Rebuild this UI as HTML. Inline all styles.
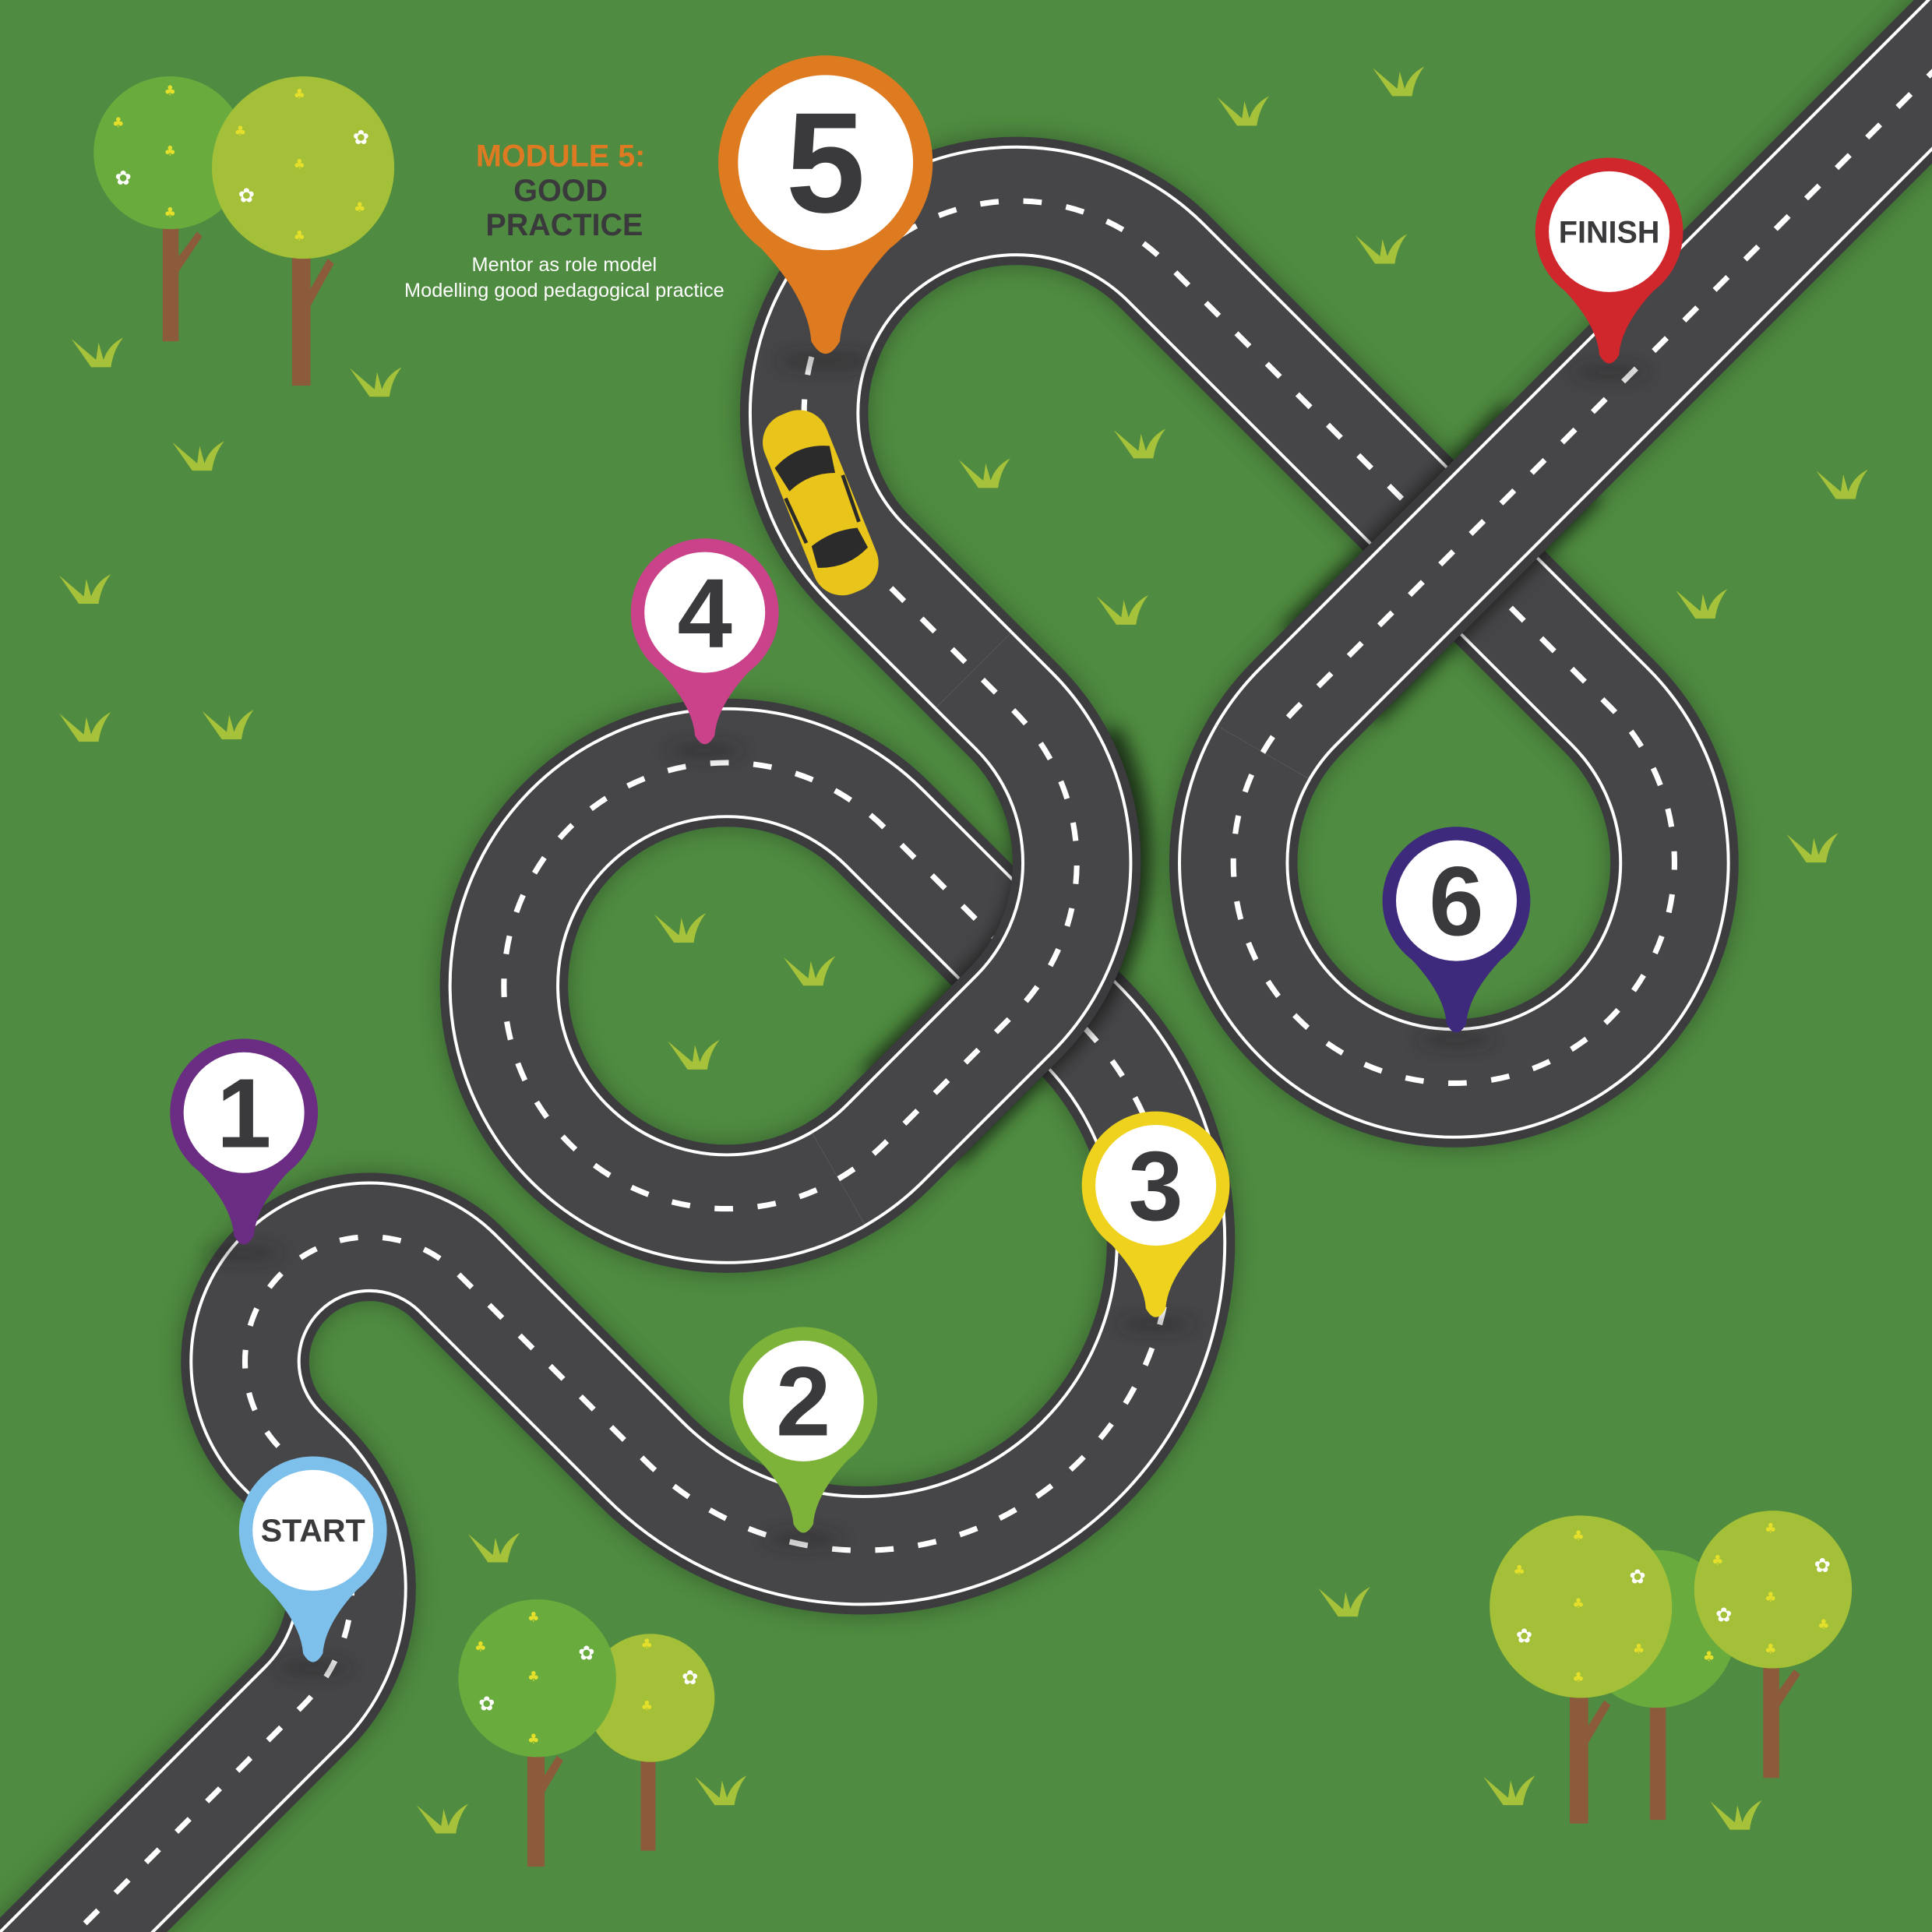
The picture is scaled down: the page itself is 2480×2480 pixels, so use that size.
<!DOCTYPE html>
<html><head><meta charset="utf-8"><style>html,body{margin:0;padding:0;background:#4f8b40;width:2480px;height:2480px;overflow:hidden}svg{display:block}</style></head><body>
<svg width="2480" height="2480" viewBox="0 0 1568 1568" xmlns="http://www.w3.org/2000/svg">
<defs>
<filter id="sh" filterUnits="userSpaceOnUse" x="-100" y="-100" width="1768" height="1768"><feGaussianBlur stdDeviation="7"/></filter>
<g id="grass"><path d="M-22,-15 L-6,8 L10,8 Q12,-6 20,-16 Q8,-10 4,2 L0,-12 L-2,2 Z" fill="#a6c23a"/></g>
<g id="pin"><path d="M-46,38 Q-10,72 -8,100 Q0,114 8,100 Q10,72 46,38 Z"/><circle r="60"/><circle r="49" fill="#fff"/></g>
</defs>
<rect width="1568" height="1568" fill="#4f8b40"/>
<g>
<use href="#grass" x="80" y="290"/><use href="#grass" x="162" y="374"/><use href="#grass" x="306" y="314"/><use href="#grass" x="70" y="482"/><use href="#grass" x="70" y="594"/><use href="#grass" x="186" y="592"/><use href="#grass" x="1010" y="94"/><use href="#grass" x="1136" y="70"/><use href="#grass" x="1122" y="206"/><use href="#grass" x="800" y="388"/><use href="#grass" x="926" y="364"/><use href="#grass" x="912" y="499"/><use href="#grass" x="553" y="757"/><use href="#grass" x="658" y="792"/><use href="#grass" x="564" y="860"/><use href="#grass" x="1496" y="397"/><use href="#grass" x="1382" y="494"/><use href="#grass" x="1472" y="692"/><use href="#grass" x="402" y="1260"/><use href="#grass" x="360" y="1480"/><use href="#grass" x="586" y="1457"/><use href="#grass" x="1092" y="1304"/><use href="#grass" x="1226" y="1457"/><use href="#grass" x="1410" y="1477"/>
</g>
<g fill="none" stroke-linejoin="round">
<path id="road" d="M-30,1660 L246.3,1383.7 A134 134 0 0 0 246.3,1194.3 L228.5,1176.5 A101 101 0 1 1 371.5,1033.5 L523,1185 A250 250 0 0 0 877,831 L718,672 A181 181 0 1 0 718,928 L823,823 A174 174 0 0 0 823,577 L703,457 A172 172 0 1 1 946.5,213.5 L1306.5,573.5 A179 179 0 1 1 1053.5,573.5 L1660,-33"/>
<use href="#road" stroke="#2c4a26" stroke-width="112" opacity="0.45" filter="url(#sh)"/>
<use href="#road" stroke="#3c3c3e" stroke-width="104"/>
<use href="#road" stroke="#ffffff" stroke-width="90"/>
<use href="#road" stroke="#464648" stroke-width="85"/>
<use href="#road" stroke="#ffffff" stroke-width="4.5" stroke-dasharray="15 20"/>
<path id="b1" d="M680.5,956.7 A181 181 0 0 0 718,928 L823,823 A174 174 0 0 0 823,577 L790,544"/>
<path id="b1s" d="M740,906 L823,823 A174 174 0 0 0 860,614"/>
<use href="#b1s" stroke="#000" stroke-width="110" opacity="0.55" filter="url(#sh)"/>
<use href="#b1" stroke="#3c3c3e" stroke-width="104"/>
<use href="#b1" stroke="#ffffff" stroke-width="90"/>
<use href="#b1" stroke="#464648" stroke-width="85"/>
<use href="#b1" stroke="#fff" stroke-width="4.5" stroke-dasharray="15 20"/>
<path id="b2" d="M1025,610.5 A179 179 0 0 1 1053.5,573.5 L1660,-33"/>
<path id="b2s" d="M1080,547 L1260,367"/>
<use href="#b2s" stroke="#000" stroke-width="110" opacity="0.55" filter="url(#sh)"/>
<use href="#b2" stroke="#3c3c3e" stroke-width="104"/>
<use href="#b2" stroke="#ffffff" stroke-width="90"/>
<use href="#b2" stroke="#464648" stroke-width="85"/>
<use href="#b2" stroke="#fff" stroke-width="4.5" stroke-dasharray="15 20"/>
</g>
<g transform="translate(666,408) rotate(-22)">
<rect x="-27" y="-78" width="54" height="156" rx="24" fill="#e9c41b"/>
<path d="M-24,-40 Q0,-52 24,-40 L20,-18 Q0,-26 -20,-18 Z" fill="#2b2b2b"/>
<path d="M-20,30 Q0,24 20,30 L22,48 Q0,58 -22,48 Z" fill="#2b2b2b"/>
<path d="M-25,-14 L-23,26 M25,-14 L23,26" stroke="#2b2b2b" stroke-width="3"/>
</g>
<g>
<rect x="132" y="175" width="13" height="102" fill="#8c5b3b"/><path d="M140,215 L160,188 L164,192 L144,222Z" fill="#8c5b3b"/>
<circle cx="138" cy="124" r="62" fill="#6aab3e"/>
<rect x="237" y="200" width="15" height="113" fill="#8c5b3b"/><path d="M246,245 L266,210 L271,214 L250,252Z" fill="#8c5b3b"/>
<circle cx="246" cy="136" r="74" fill="#a3c038"/>
<rect x="520" y="1420" width="12" height="82" fill="#8c5b3b"/>
<circle cx="528" cy="1378" r="52" fill="#a3c038"/>
<rect x="428" y="1415" width="14" height="100" fill="#8c5b3b"/><path d="M436,1450 L452,1425 L457,1429 L440,1458Z" fill="#8c5b3b"/>
<circle cx="436" cy="1362" r="64" fill="#6aab3e"/>
<rect x="1339" y="1375" width="13" height="102" fill="#8c5b3b"/>
<circle cx="1345" cy="1322" r="64" fill="#6aab3e"/>
<rect x="1274" y="1370" width="15" height="110" fill="#8c5b3b"/><path d="M1283,1410 L1302,1380 L1307,1384 L1287,1418Z" fill="#8c5b3b"/>
<circle cx="1283" cy="1304" r="74" fill="#a3c038"/>
<rect x="1431" y="1345" width="13" height="98" fill="#8c5b3b"/><path d="M1438,1380 L1456,1355 L1461,1359 L1442,1388Z" fill="#8c5b3b"/>
<circle cx="1439" cy="1290" r="64" fill="#a3c038"/>
<g fill="#fff" font-family="DejaVu Sans, sans-serif" font-size="16" text-anchor="middle">
<text x="100" y="150">✿</text><text x="293" y="117">✿</text><text x="200" y="164">✿</text><text x="476" y="1347">✿</text><text x="395" y="1388">✿</text><text x="560" y="1367">✿</text><text x="1329" y="1285">✿</text><text x="1237" y="1333">✿</text><text x="1479" y="1276">✿</text><text x="1399" y="1316">✿</text>
</g>
<g fill="#e4df2a" font-family="DejaVu Sans, sans-serif" font-size="11" text-anchor="middle">
<text x="138" y="77">♣</text><text x="96" y="103">♣</text><text x="138" y="126">♣</text><text x="138" y="176">♣</text><text x="243" y="80">♣</text><text x="195" y="110">♣</text><text x="243" y="137">♣</text><text x="243" y="195">♣</text><text x="292" y="172">♣</text>
<text x="433" y="1316">♣</text><text x="390" y="1340">♣</text><text x="433" y="1364">♣</text><text x="433" y="1415">♣</text><text x="525" y="1338">♣</text><text x="525" y="1388">♣</text>
<text x="1281" y="1250">♣</text><text x="1233" y="1278">♣</text><text x="1281" y="1305">♣</text><text x="1330" y="1342">♣</text><text x="1281" y="1365">♣</text><text x="1437" y="1244">♣</text><text x="1394" y="1270">♣</text><text x="1437" y="1300">♣</text><text x="1437" y="1342">♣</text><text x="1480" y="1322">♣</text><text x="1387" y="1348">♣</text>
</g>
</g>
<g font-family="Liberation Sans, sans-serif" text-anchor="middle">
<text x="455" y="135" font-size="25" font-weight="bold" fill="#de7b22">MODULE 5:</text>
<text x="455" y="163" font-size="25" font-weight="bold" fill="#3a3a3c">GOOD</text>
<text x="458" y="191" font-size="25" font-weight="bold" fill="#3a3a3c">PRACTICE</text>
<text x="458" y="220" font-size="16" fill="#fff">Mentor as role model</text>
<text x="458" y="241" font-size="16" fill="#fff">Modelling good pedagogical practice</text>
</g>
<g fill="#1f1f1f" opacity="0.45" filter="url(#sh)">
<ellipse cx="670" cy="293" rx="40" ry="6"/><ellipse cx="572" cy="609" rx="32" ry="5"/><ellipse cx="198" cy="1017" rx="32" ry="5"/><ellipse cx="254" cy="1354" rx="32" ry="5"/><ellipse cx="652" cy="1249" rx="32" ry="5"/><ellipse cx="938" cy="1075" rx="32" ry="5"/><ellipse cx="1182" cy="844" rx="32" ry="5"/><ellipse cx="1306" cy="302" rx="32" ry="5"/>
</g>
<use href="#pin" fill="#de7b20" transform="translate(670,132) scale(1.45)"/>
<use href="#pin" fill="#c9428a" transform="translate(572,497)"/>
<use href="#pin" fill="#6b2d83" transform="translate(198,903)"/>
<use href="#pin" fill="#7dc0ec" transform="translate(254,1242)"/>
<use href="#pin" fill="#7eb33a" transform="translate(652,1137)"/>
<use href="#pin" fill="#eed21d" transform="translate(938,962)"/>
<use href="#pin" fill="#3d2a7d" transform="translate(1182,731)"/>
<use href="#pin" fill="#cf272c" transform="translate(1306,188)"/>
<g font-family="Liberation Sans, sans-serif" font-weight="bold" fill="#3a3a3c" text-anchor="middle">
<text x="670" y="172" font-size="116">5</text>
<text x="572" y="525" font-size="80">4</text>
<text x="198" y="931" font-size="80">1</text>
<text x="652" y="1165" font-size="80">2</text>
<text x="938" y="990" font-size="80">3</text>
<text x="1182" y="759" font-size="80">6</text>
<text x="254" y="1251" font-size="26">START</text>
<text x="1306" y="197" font-size="25">FINISH</text>
</g>
</svg>
</body></html>
